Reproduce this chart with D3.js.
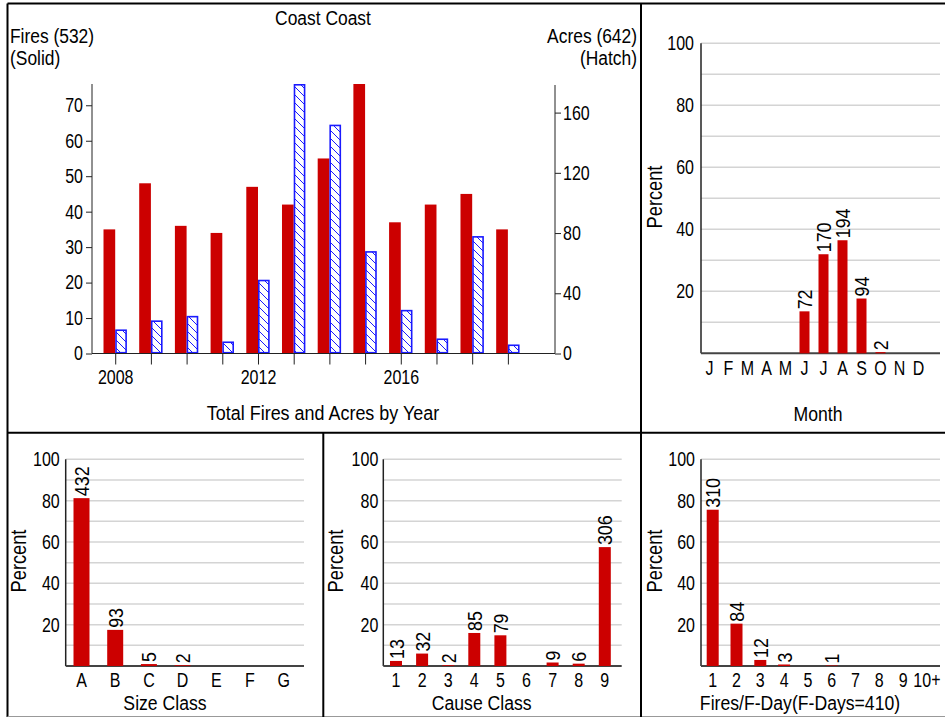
<!DOCTYPE html>
<html><head><meta charset="utf-8">
<script src="https://cdn.jsdelivr.net/npm/d3@7"></script>
<style>
html,body{margin:0;padding:0;background:#fff;}
svg{display:block;}
text{font-family:"Liberation Sans Narrow","Arial Narrow","Liberation Sans",Arial,sans-serif;fill:#000;}
</style></head>
<body><svg id="c" width="945" height="718"></svg>
<script>
// ---- data ----
const years = [2008,2009,2010,2011,2012,2013,2014,2015,2016,2017,2018,2019];
const fires = [35,48,36,34,47,42,55,76,37,42,45,35];
const acres = [16,22,25,8,49,179,152,68,29,10,78,6];
const yearLabels = [2008,2012,2016];
const fireTicks = [0,10,20,30,40,50,60,70];
const acreTicks = [0,40,80,120,160];
const months = ["J","F","M","A","M","J","J","A","S","O","N","D"];
const monthCounts = [0,0,0,0,0,72,170,194,94,2,0,0];
const sizeClasses = ["A","B","C","D","E","F","G"];
const sizeCounts = [432,93,5,2,0,0,0];
const causeClasses = ["1","2","3","4","5","6","7","8","9"];
const causeCounts = [13,32,2,85,79,0,9,6,306];
const fdayClasses = ["1","2","3","4","5","6","7","8","9","10+"];
const fdayCounts = [310,84,12,3,0,1,0,0,0,0];
const pctTicks = [20,40,60,80,100];
const pctGrid = [10,20,30,40,50,60,70,80,90,100];

const RED = "#cc0000", BLUE = "#1a1aff";
const SX = 0.83;      // horizontal condensing of text (narrow face)
const svg = d3.select("#c");

function txt(parent, x, y, str, size, anchor, rot, sx){
  const g = parent.append("g")
    .attr("transform", `translate(${x},${y})` + (rot ? ` rotate(${rot})` : "") + ` scale(${sx||SX},1)`);
  g.append("text").attr("text-anchor", anchor||"start").attr("font-size", size).text(str);
  return g;
}

// hatch pattern
const defs = svg.append("defs");
const pat = defs.append("pattern").attr("id","hatch").attr("patternUnits","userSpaceOnUse")
  .attr("width",8).attr("height",8);
pat.append("rect").attr("width",8).attr("height",8).attr("fill","#fff");
pat.append("path").attr("d","M0,0L8,8M-2,6L2,10M6,-2L10,2").attr("stroke",BLUE).attr("stroke-width",1);

// ---- frame ----
const frame = svg.append("g").attr("fill","none");
frame.append("line").attr("x1",7.5).attr("x2",945).attr("y1",3.5).attr("y2",3.5).attr("stroke","#000").attr("stroke-width",2);
frame.append("line").attr("x1",7.5).attr("x2",7.5).attr("y1",3.5).attr("y2",717).attr("stroke","#000").attr("stroke-width",2);
frame.append("line").attr("x1",7.5).attr("x2",945).attr("y1",716.5).attr("y2",716.5).attr("stroke","#999").attr("stroke-width",1);
frame.append("line").attr("x1",7.5).attr("x2",945).attr("y1",432.7).attr("y2",432.7).attr("stroke","#000").attr("stroke-width",2);
frame.append("line").attr("x1",641).attr("x2",641).attr("y1",3.5).attr("y2",717).attr("stroke","#000").attr("stroke-width",2);
frame.append("line").attr("x1",323.3).attr("x2",323.3).attr("y1",432.7).attr("y2",717).attr("stroke","#000").attr("stroke-width",2);

// ---- main panel ----
const g1 = svg.append("g");
const x1 = d3.scaleLinear().domain([2007.35,2020.32]).range([92,555]);
const yF = d3.scaleLinear().domain([0,76]).range([353.5,84]);
const yA = d3.scaleLinear().domain([0,179]).range([353.5,84]);
const bw = 11.7;

g1.selectAll("rect.f").data(years).join("rect").attr("class","f")
  .attr("x",(d)=>x1(d)-bw).attr("width",bw)
  .attr("y",(d,i)=>yF(fires[i])).attr("height",(d,i)=>yF(0)-yF(fires[i]))
  .attr("fill",RED);
g1.selectAll("rect.a").data(years).join("rect").attr("class","a")
  .attr("x",(d)=>x1(d)+0.8).attr("width",bw-1.6)
  .attr("y",(d,i)=>yA(acres[i])+0.8).attr("height",(d,i)=>Math.max(0,yA(0)-yA(acres[i])-1.6))
  .attr("fill","url(#hatch)").attr("stroke",BLUE).attr("stroke-width",1.6);

function styleAxis(sel, size, sx){
  sel.select(".domain").remove();
  sel.selectAll(".tick line").attr("stroke","#222").attr("stroke-width",1);
  sel.selectAll(".tick text").attr("font-size",size).attr("fill","#000")
    .each(function(){
      const t = d3.select(this);
      const x = +t.attr("x") || 0;
      t.attr("x", x/sx).attr("transform",`scale(${sx},1)`);
    });
}
const axL = g1.append("g").attr("transform","translate(92,0)")
  .call(d3.axisLeft(yF).tickValues(fireTicks).tickSize(6).tickPadding(3));
styleAxis(axL, 20, 0.8);
const axR = g1.append("g").attr("transform","translate(555,0)")
  .call(d3.axisRight(yA).tickValues(acreTicks).tickSize(6).tickPadding(2));
styleAxis(axR, 20, 0.8);
const axB = g1.append("g").attr("transform","translate(0,353.5)")
  .call(d3.axisBottom(x1).tickValues(years).tickSize(11).tickFormat(d=>yearLabels.includes(d)?String(d):"").tickPadding(5));
styleAxis(axB, 20, 0.8);
g1.append("line").attr("x1",92).attr("x2",92).attr("y1",84).attr("y2",353.5).attr("stroke","#222");
g1.append("line").attr("x1",555).attr("x2",555).attr("y1",85).attr("y2",353.5).attr("stroke","#222");
g1.append("line").attr("x1",92).attr("x2",555).attr("y1",353.5).attr("y2",353.5).attr("stroke","#222");

txt(g1, 323, 25, "Coast Coast", 21, "middle");
txt(g1, 10, 43, "Fires (532)", 20, "start", 0, 0.87);
txt(g1, 10, 65, "(Solid)", 20, "start", 0, 0.87);
txt(g1, 637, 43, "Acres (642)", 20, "end", 0, 0.87);
txt(g1, 637, 65, "(Hatch)", 20, "end", 0, 0.87);
txt(g1, 323, 420, "Total Fires and Acres by Year", 21, "middle", 0, 0.855);

// ---- percent panels ----
function pctPanel(o){
  const g = svg.append("g");
  const total = d3.sum(o.counts);
  const y = d3.scaleLinear().domain([0,100]).range([o.y0,o.y100]);
  const x = d3.scalePoint().domain(d3.range(o.cats.length)).range([o.c0,o.c1]);
  g.selectAll("line.grid").data(pctGrid).join("line").attr("class","grid")
    .attr("x1",o.ax).attr("x2",o.gx).attr("y1",d=>y(d)).attr("y2",d=>y(d))
    .attr("stroke","#d4d4d4").attr("stroke-width",1.5);
  const ay = g.append("g").attr("transform",`translate(${o.ax},0)`)
    .call(d3.axisLeft(y).tickValues(pctTicks).tickSize(0).tickPadding(o.tp));
  styleAxis(ay, 20, 0.8);
  g.append("line").attr("x1",o.ax).attr("x2",o.ax).attr("y1",o.y100).attr("y2",o.y0).attr("stroke","#222").attr("stroke-width",1.5);
  g.append("line").attr("x1",o.ax).attr("x2",o.gx).attr("y1",o.y0).attr("y2",o.y0).attr("stroke","#444").attr("stroke-width",2);
  const pct = o.counts.map(c=>c/total*100);
  g.selectAll("rect.b").data(o.counts).join("rect").attr("class","b")
    .attr("x",(d,i)=>x(i)-o.bw/2).attr("width",o.bw)
    .attr("y",(d,i)=>y(pct[i])).attr("height",(d,i)=>y(0)-y(pct[i]))
    .attr("fill",RED);
  o.counts.forEach((c,i)=>{
    if(c>0) txt(g, x(i)+7.5, y(pct[i])-2, String(c), 21, "start", -90, 0.85);
  });
  o.cats.forEach((c,i)=>{ txt(g, x(i), o.catY, c, 20, "middle", 0, 0.8); });
  txt(g, o.titleX, o.titleY, o.title, 21, "middle", 0, 0.84);
  txt(g, o.pX, o.pY, "Percent", 22, "middle", -90, 0.83);
}

pctPanel({cats:months,counts:monthCounts,ax:701,gx:940,y0:353.3,y100:43.3,c0:709.5,c1:918.5,bw:10,tp:7,
  catY:375,title:"Month",titleX:818,titleY:421,pX:662,pY:197});
pctPanel({cats:sizeClasses,counts:sizeCounts,ax:65.7,gx:304,y0:666,y100:459.3,c0:81.5,c1:283.7,bw:16,tp:6,
  catY:687,title:"Size Class",titleX:165,titleY:710,pX:26,pY:561});
pctPanel({cats:causeClasses,counts:causeCounts,ax:383.3,gx:621.7,y0:666,y100:459.3,c0:396,c1:604.8,bw:12,tp:5,
  catY:687,title:"Cause Class",titleX:481.7,titleY:710,pX:343,pY:561});
pctPanel({cats:fdayClasses,counts:fdayCounts,ax:701,gx:940,y0:666,y100:459.3,c0:712.7,c1:926.9,bw:12,tp:6,
  catY:687,title:"Fires/F-Day(F-Days=410)",titleX:800,titleY:710,pX:662,pY:561});
</script></body></html>
